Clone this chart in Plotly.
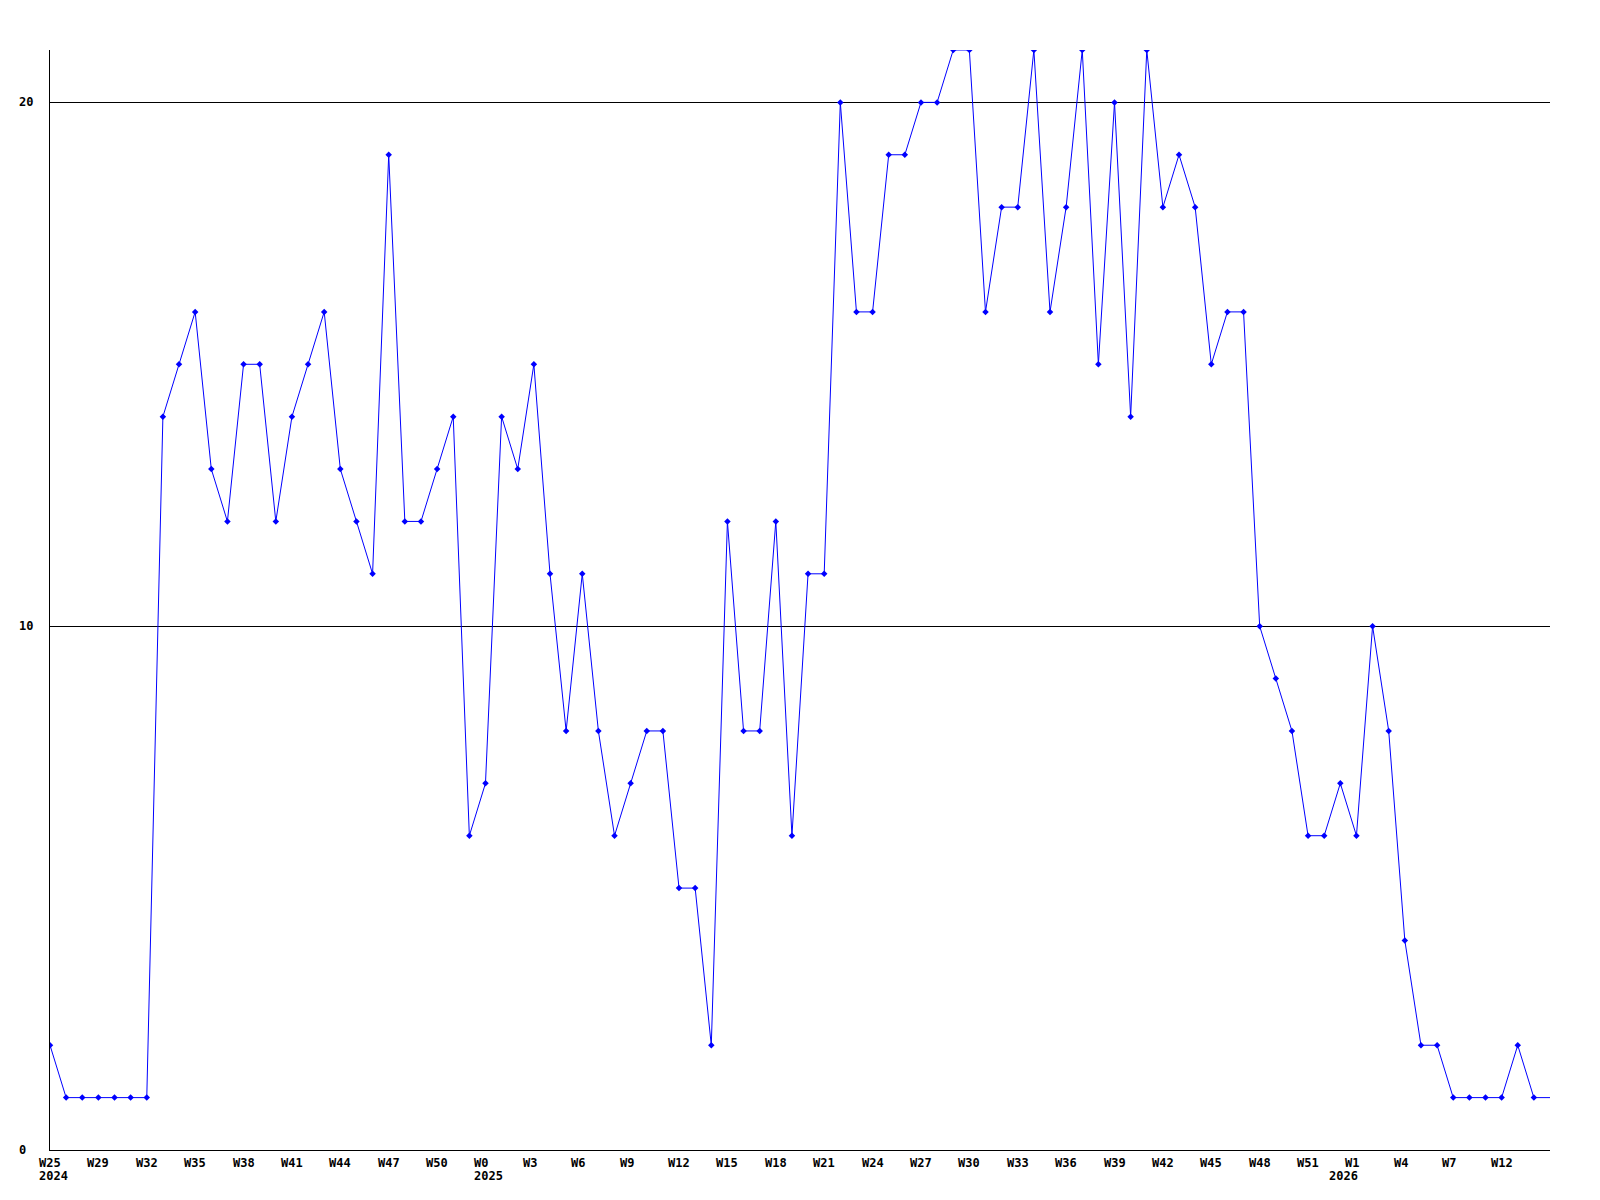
import plotly.graph_objects as go

# Weekly values (index 0 = first week shown); last entry is the open-ended current week
values = [2, 1, 1, 1, 1, 1, 1, 14, 15, 16, 13, 12, 15, 15, 12, 14, 15, 16, 13, 12,
          11, 19, 12, 12, 13, 14, 6, 7, 14, 13, 15, 11, 8, 11, 8, 6, 7, 8, 8, 5,
          5, 2, 12, 8, 8, 12, 6, 11, 11, 20, 16, 16, 19, 19, 20, 20, 21, 21, 16, 18,
          18, 21, 16, 18, 21, 15, 20, 14, 21, 18, 19, 18, 15, 16, 16, 10, 9, 8, 6, 6,
          7, 6, 10, 8, 4, 2, 2, 1, 1, 1, 1, 2, 1, 1]
n_marked = 93  # points drawn with a marker

tick_idx = [0, 3, 6, 9, 12, 15, 18, 21, 24, 27, 30, 33, 36, 39, 42, 45, 48, 51,
            54, 57, 60, 63, 66, 69, 72, 75, 78, 81, 84, 87, 90]
tick_text = ["W25", "W29", "W32", "W35", "W38", "W41", "W44", "W47", "W50", "W0",
             "W3", "W6", "W9", "W12", "W15", "W18", "W21", "W24", "W27", "W30",
             "W33", "W36", "W39", "W42", "W45", "W48", "W51", "W1", "W4", "W7", "W12"]
year_idx = [0, 27, 80]
year_text = ["2024", "2025", "2026"]
y_ticks = [0, 10, 20]

x = list(range(len(values)))
FONT = dict(family="DejaVu Sans Mono", size=12, color="black", weight="bold")

fig = go.Figure()
fig.add_trace(go.Scatter(
    x=x, y=values, mode="lines",
    line=dict(color="#0000ff", width=1), hoverinfo="skip", showlegend=False))
fig.add_trace(go.Scatter(
    x=x[:n_marked], y=values[:n_marked], mode="markers",
    marker=dict(symbol="diamond", size=5, color="#0000ff", line=dict(width=0)),
    showlegend=False))

ann = []
for i, t in zip(tick_idx, tick_text):
    ann.append(dict(x=i, y=0, xref="x", yref="paper", text=t, showarrow=False,
                    xanchor="left", yanchor="middle", xshift=-11, yshift=-13,
                    font=FONT, borderpad=0, borderwidth=0))
for i, t in zip(year_idx, year_text):
    ann.append(dict(x=i, y=0, xref="x", yref="paper", text=t, showarrow=False,
                    xanchor="left", yanchor="middle", xshift=-11, yshift=-26,
                    font=FONT, borderpad=0, borderwidth=0))
for v in y_ticks:
    ann.append(dict(x=0, y=v, xref="paper", yref="y", text=str(v), showarrow=False,
                    xanchor="left", yanchor="middle", xshift=-31,
                    font=FONT, borderpad=0, borderwidth=0))

# the page body adds an 8px margin, so the figure is 16px smaller and margins 8px less
fig.update_layout(
    width=1584, height=1184,
    margin=dict(l=42, r=42, t=42, b=42),
    paper_bgcolor="white", plot_bgcolor="white",
    font=FONT,
    annotations=ann,
    xaxis=dict(range=[0, len(values) - 1], showgrid=False, zeroline=False,
               showline=True, linecolor="black", linewidth=1,
               showticklabels=False, ticks=""),
    yaxis=dict(range=[0, 21], tickvals=y_ticks, showgrid=True, gridcolor="black",
               gridwidth=1, zeroline=False, showline=True, linecolor="black",
               linewidth=1, showticklabels=False, ticks=""),
)

fig.write_html("out.html")
